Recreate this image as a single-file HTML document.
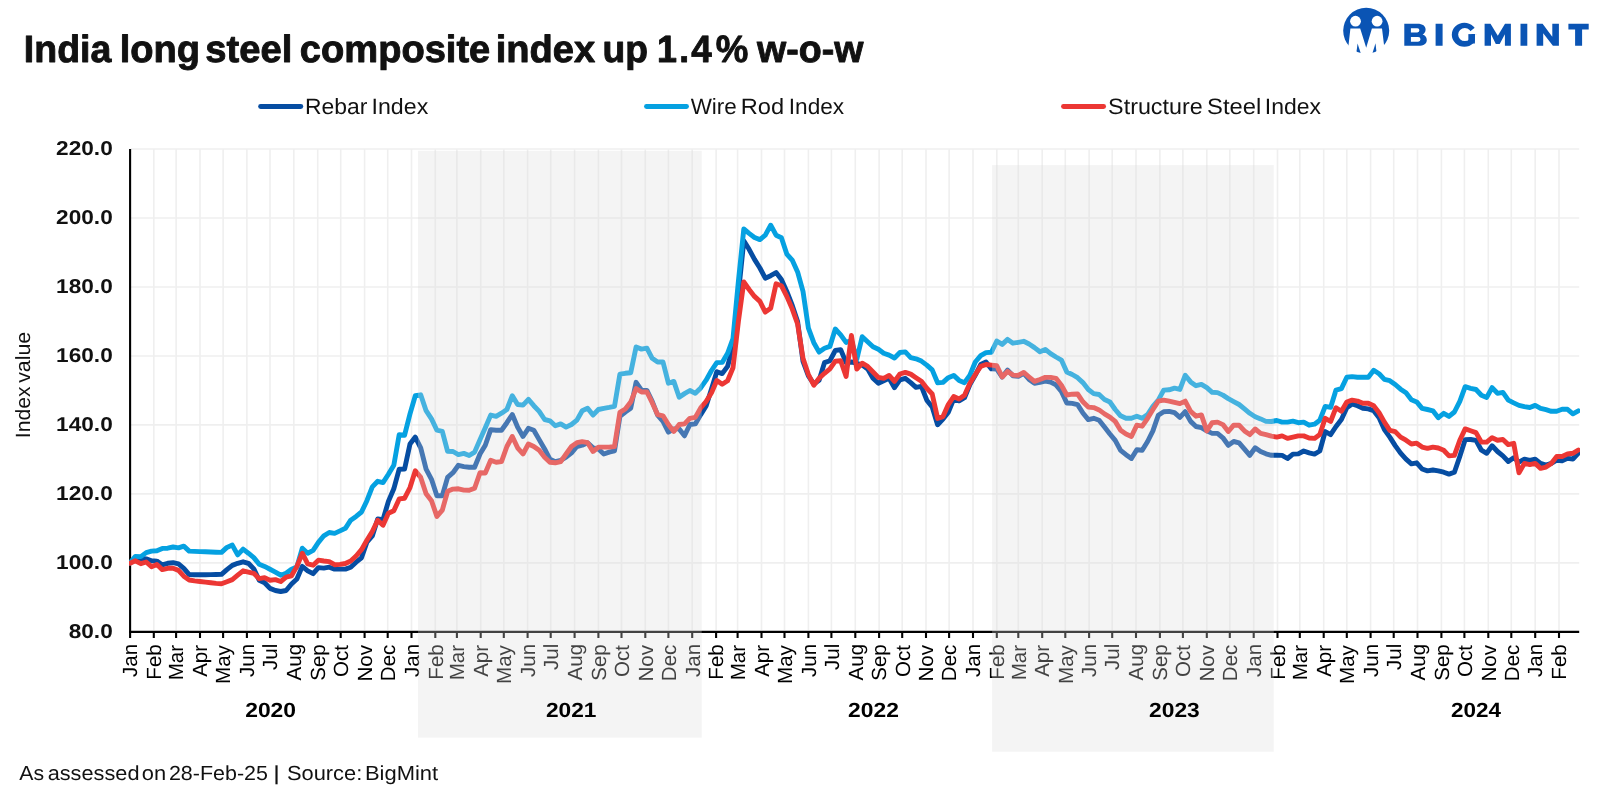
<!DOCTYPE html>
<html><head><meta charset="utf-8"><title>India long steel composite index</title>
<style>
html,body{margin:0;padding:0;background:#fff;}
body{width:1598px;height:797px;overflow:hidden;}
svg{display:block;will-change:transform;}
text{font-family:"Liberation Sans",sans-serif;font-kerning:none;text-rendering:geometricPrecision;}
.b{font-weight:700;}
</style></head><body>
<svg width="1598" height="797" viewBox="0 0 1598 797">
<rect width="1598" height="797" fill="#fff"/>
<defs><clipPath id="pc"><rect x="129.05" y="140" width="1451.05" height="500"/></clipPath></defs>
<text class="b" y="61.70" font-size="38.00" fill="#111" stroke="#111" stroke-width="0.90" stroke-linejoin="round"><tspan x="23.84" textLength="87.47" lengthAdjust="spacingAndGlyphs">India</tspan> <tspan x="119.79" textLength="80.30" lengthAdjust="spacingAndGlyphs">long</tspan> <tspan x="205.21" textLength="87.05" lengthAdjust="spacingAndGlyphs">steel</tspan> <tspan x="299.86" textLength="190.39" lengthAdjust="spacingAndGlyphs">composite</tspan> <tspan x="495.79" textLength="99.44" lengthAdjust="spacingAndGlyphs">index</tspan> <tspan x="602.54" textLength="45.54" lengthAdjust="spacingAndGlyphs">up</tspan> <tspan x="657.09" textLength="19.96" lengthAdjust="spacingAndGlyphs">1</tspan><tspan x="679.35" textLength="9.84" lengthAdjust="spacingAndGlyphs">.</tspan><tspan x="691.19" textLength="20.45" lengthAdjust="spacingAndGlyphs">4</tspan><tspan x="715.64" textLength="32.58" lengthAdjust="spacingAndGlyphs">%</tspan> <tspan x="757.06" textLength="106.42" lengthAdjust="spacingAndGlyphs">w-o-w</tspan></text>
<defs><clipPath id="lc"><circle cx="1366.2" cy="30.7" r="23.0"/></clipPath></defs>
<g>
<circle cx="1366.2" cy="30.7" r="23.0" fill="#0a54b4"/>
<circle cx="1355.5" cy="21.2" r="5.4" fill="#fff"/><circle cx="1377.1" cy="21.2" r="5.4" fill="#fff"/>
<path fill="#fff" d="M1350.4 28.4 H1360.2 L1366.2 47.8 L1371.9 28.4 H1382 L1384.4 48 V58 H1348.2 V48 Z"/>
<g clip-path="url(#lc)" fill="#0a54b4"><path d="M1357.6 43.6 L1355.9 56 L1361.6 56 Z"/><path d="M1375.5 43.2 L1371.6 56 L1376.9 56 Z"/></g>
</g>
<path fill="#0a54b4" fill-rule="evenodd" d="M1404.3 23.7 H1417.3 C1422.8 23.7 1425.6 25.9 1425.6 29.6 C1425.6 32.0 1424.3 33.7 1422.6 34.5 C1425.1 35.3 1426.8 37.2 1426.8 40.0 C1426.8 43.9 1423.8 45.8 1418.3 45.8 H1404.3 Z M1410.9 28.2 H1417.3 a2.1 2.1 0 0 1 0 4.2 H1410.9 Z M1410.9 36.9 H1418.1 a2.4 2.4 0 0 1 0 4.8 H1410.9 Z M1435.6 23.7 h7 v22.1 h-7 Z M1484.6 45.8 V23.7 H1490.5 L1497.8 35.8 L1505.0 23.7 H1510.9 V45.8 H1504.9 V34.3 L1499.7 44.0 H1495.8 L1491.0 34.3 V45.8 Z M1520.5 23.7 h6.8 v22.1 h-6.8 Z M1536.6 45.8 V23.7 H1542.6 L1552.3 36.7 V23.7 H1558.9 V45.8 H1552.9 L1543.2 33.2 V45.8 Z M1568.4 23.7 H1588.7 V29.4 H1582.1 V45.8 H1575.1 V29.4 H1568.4 Z"/>
<path fill="#0a54b4" fill-rule="evenodd" d="M1451.8 34.75 a12.55 11.95 0 1 0 25.1 0 a12.55 11.95 0 1 0 -25.1 0 Z M1458.15 34.55 a6.7 6.55 0 1 0 13.4 0 a6.7 6.55 0 1 0 -13.4 0 Z"/>
<path fill="#fff" d="M1469.6 31.7 L1478.3 25.0 L1479 34.1 L1466.5 34.1 Z"/>
<path fill="#fff" d="M1474.9 34.1 H1479 V47 H1474.9 Z"/>
<rect x="1468.35" y="34.1" width="6.55" height="9.4" fill="#0a54b4"/>
<line x1="260.6" y1="106.5" x2="300.8" y2="106.5" stroke="#064da2" stroke-width="4.9" stroke-linecap="round"/><text y="113.80" font-size="22.20" fill="#111"><tspan x="305.02" textLength="62.36" lengthAdjust="spacingAndGlyphs">Rebar</tspan> <tspan x="371.56" textLength="56.69" lengthAdjust="spacingAndGlyphs">Index</tspan></text>
<line x1="646.5" y1="106.5" x2="686.5" y2="106.5" stroke="#05a1e1" stroke-width="4.9" stroke-linecap="round"/><text y="113.80" font-size="22.20" fill="#111"><tspan x="690.70" textLength="46.10" lengthAdjust="spacingAndGlyphs">Wire</tspan> <tspan x="740.76" textLength="43.36" lengthAdjust="spacingAndGlyphs">Rod</tspan> <tspan x="788.81" textLength="55.33" lengthAdjust="spacingAndGlyphs">Index</tspan></text>
<line x1="1063.5" y1="106.5" x2="1103.6" y2="106.5" stroke="#ec3734" stroke-width="4.9" stroke-linecap="round"/><text y="113.80" font-size="22.20" fill="#111"><tspan x="1108.14" textLength="94.49" lengthAdjust="spacingAndGlyphs">Structure</tspan> <tspan x="1207.12" textLength="54.17" lengthAdjust="spacingAndGlyphs">Steel</tspan> <tspan x="1264.78" textLength="56.17" lengthAdjust="spacingAndGlyphs">Index</tspan></text>
<g stroke="#efefef" stroke-width="1.6" fill="none">
<line x1="131" y1="149.0" x2="1579.2" y2="149.0"/><line x1="131" y1="218.0" x2="1579.2" y2="218.0"/><line x1="131" y1="287.0" x2="1579.2" y2="287.0"/><line x1="131" y1="356.0" x2="1579.2" y2="356.0"/><line x1="131" y1="424.9" x2="1579.2" y2="424.9"/><line x1="131" y1="493.9" x2="1579.2" y2="493.9"/><line x1="131" y1="562.9" x2="1579.2" y2="562.9"/><line x1="153.8" y1="149" x2="153.8" y2="630"/><line x1="176.1" y1="149" x2="176.1" y2="630"/><line x1="200.0" y1="149" x2="200.0" y2="630"/><line x1="223.1" y1="149" x2="223.1" y2="630"/><line x1="246.9" y1="149" x2="246.9" y2="630"/><line x1="270.0" y1="149" x2="270.0" y2="630"/><line x1="293.8" y1="149" x2="293.8" y2="630"/><line x1="317.7" y1="149" x2="317.7" y2="630"/><line x1="340.7" y1="149" x2="340.7" y2="630"/><line x1="364.6" y1="149" x2="364.6" y2="630"/><line x1="387.7" y1="149" x2="387.7" y2="630"/><line x1="411.5" y1="149" x2="411.5" y2="630"/><line x1="435.3" y1="149" x2="435.3" y2="630"/><line x1="456.9" y1="149" x2="456.9" y2="630"/><line x1="480.7" y1="149" x2="480.7" y2="630"/><line x1="503.8" y1="149" x2="503.8" y2="630"/><line x1="527.6" y1="149" x2="527.6" y2="630"/><line x1="550.7" y1="149" x2="550.7" y2="630"/><line x1="574.6" y1="149" x2="574.6" y2="630"/><line x1="598.4" y1="149" x2="598.4" y2="630"/><line x1="621.5" y1="149" x2="621.5" y2="630"/><line x1="645.3" y1="149" x2="645.3" y2="630"/><line x1="668.4" y1="149" x2="668.4" y2="630"/><line x1="692.2" y1="149" x2="692.2" y2="630"/><line x1="716.1" y1="149" x2="716.1" y2="630"/><line x1="737.6" y1="149" x2="737.6" y2="630"/><line x1="761.5" y1="149" x2="761.5" y2="630"/><line x1="784.5" y1="149" x2="784.5" y2="630"/><line x1="808.4" y1="149" x2="808.4" y2="630"/><line x1="831.4" y1="149" x2="831.4" y2="630"/><line x1="855.3" y1="149" x2="855.3" y2="630"/><line x1="879.1" y1="149" x2="879.1" y2="630"/><line x1="902.2" y1="149" x2="902.2" y2="630"/><line x1="926.0" y1="149" x2="926.0" y2="630"/><line x1="949.1" y1="149" x2="949.1" y2="630"/><line x1="973.0" y1="149" x2="973.0" y2="630"/><line x1="996.8" y1="149" x2="996.8" y2="630"/><line x1="1018.3" y1="149" x2="1018.3" y2="630"/><line x1="1042.2" y1="149" x2="1042.2" y2="630"/><line x1="1065.3" y1="149" x2="1065.3" y2="630"/><line x1="1089.1" y1="149" x2="1089.1" y2="630"/><line x1="1112.2" y1="149" x2="1112.2" y2="630"/><line x1="1136.0" y1="149" x2="1136.0" y2="630"/><line x1="1159.9" y1="149" x2="1159.9" y2="630"/><line x1="1182.9" y1="149" x2="1182.9" y2="630"/><line x1="1206.8" y1="149" x2="1206.8" y2="630"/><line x1="1229.8" y1="149" x2="1229.8" y2="630"/><line x1="1253.7" y1="149" x2="1253.7" y2="630"/><line x1="1277.5" y1="149" x2="1277.5" y2="630"/><line x1="1299.8" y1="149" x2="1299.8" y2="630"/><line x1="1323.7" y1="149" x2="1323.7" y2="630"/><line x1="1346.8" y1="149" x2="1346.8" y2="630"/><line x1="1370.6" y1="149" x2="1370.6" y2="630"/><line x1="1393.7" y1="149" x2="1393.7" y2="630"/><line x1="1417.5" y1="149" x2="1417.5" y2="630"/><line x1="1441.4" y1="149" x2="1441.4" y2="630"/><line x1="1464.4" y1="149" x2="1464.4" y2="630"/><line x1="1488.3" y1="149" x2="1488.3" y2="630"/><line x1="1511.3" y1="149" x2="1511.3" y2="630"/><line x1="1535.2" y1="149" x2="1535.2" y2="630"/><line x1="1559.0" y1="149" x2="1559.0" y2="630"/></g>
<g stroke="#000" stroke-width="2.1" fill="none">
<line x1="130.1" y1="149" x2="130.1" y2="638"/><line x1="129.05" y1="631.9" x2="1579.2" y2="631.9"/><line x1="153.8" y1="631.9" x2="153.8" y2="638"/><line x1="176.1" y1="631.9" x2="176.1" y2="638"/><line x1="200.0" y1="631.9" x2="200.0" y2="638"/><line x1="223.1" y1="631.9" x2="223.1" y2="638"/><line x1="246.9" y1="631.9" x2="246.9" y2="638"/><line x1="270.0" y1="631.9" x2="270.0" y2="638"/><line x1="293.8" y1="631.9" x2="293.8" y2="638"/><line x1="317.7" y1="631.9" x2="317.7" y2="638"/><line x1="340.7" y1="631.9" x2="340.7" y2="638"/><line x1="364.6" y1="631.9" x2="364.6" y2="638"/><line x1="387.7" y1="631.9" x2="387.7" y2="638"/><line x1="411.5" y1="631.9" x2="411.5" y2="638"/><line x1="435.3" y1="631.9" x2="435.3" y2="638"/><line x1="456.9" y1="631.9" x2="456.9" y2="638"/><line x1="480.7" y1="631.9" x2="480.7" y2="638"/><line x1="503.8" y1="631.9" x2="503.8" y2="638"/><line x1="527.6" y1="631.9" x2="527.6" y2="638"/><line x1="550.7" y1="631.9" x2="550.7" y2="638"/><line x1="574.6" y1="631.9" x2="574.6" y2="638"/><line x1="598.4" y1="631.9" x2="598.4" y2="638"/><line x1="621.5" y1="631.9" x2="621.5" y2="638"/><line x1="645.3" y1="631.9" x2="645.3" y2="638"/><line x1="668.4" y1="631.9" x2="668.4" y2="638"/><line x1="692.2" y1="631.9" x2="692.2" y2="638"/><line x1="716.1" y1="631.9" x2="716.1" y2="638"/><line x1="737.6" y1="631.9" x2="737.6" y2="638"/><line x1="761.5" y1="631.9" x2="761.5" y2="638"/><line x1="784.5" y1="631.9" x2="784.5" y2="638"/><line x1="808.4" y1="631.9" x2="808.4" y2="638"/><line x1="831.4" y1="631.9" x2="831.4" y2="638"/><line x1="855.3" y1="631.9" x2="855.3" y2="638"/><line x1="879.1" y1="631.9" x2="879.1" y2="638"/><line x1="902.2" y1="631.9" x2="902.2" y2="638"/><line x1="926.0" y1="631.9" x2="926.0" y2="638"/><line x1="949.1" y1="631.9" x2="949.1" y2="638"/><line x1="973.0" y1="631.9" x2="973.0" y2="638"/><line x1="996.8" y1="631.9" x2="996.8" y2="638"/><line x1="1018.3" y1="631.9" x2="1018.3" y2="638"/><line x1="1042.2" y1="631.9" x2="1042.2" y2="638"/><line x1="1065.3" y1="631.9" x2="1065.3" y2="638"/><line x1="1089.1" y1="631.9" x2="1089.1" y2="638"/><line x1="1112.2" y1="631.9" x2="1112.2" y2="638"/><line x1="1136.0" y1="631.9" x2="1136.0" y2="638"/><line x1="1159.9" y1="631.9" x2="1159.9" y2="638"/><line x1="1182.9" y1="631.9" x2="1182.9" y2="638"/><line x1="1206.8" y1="631.9" x2="1206.8" y2="638"/><line x1="1229.8" y1="631.9" x2="1229.8" y2="638"/><line x1="1253.7" y1="631.9" x2="1253.7" y2="638"/><line x1="1277.5" y1="631.9" x2="1277.5" y2="638"/><line x1="1299.8" y1="631.9" x2="1299.8" y2="638"/><line x1="1323.7" y1="631.9" x2="1323.7" y2="638"/><line x1="1346.8" y1="631.9" x2="1346.8" y2="638"/><line x1="1370.6" y1="631.9" x2="1370.6" y2="638"/><line x1="1393.7" y1="631.9" x2="1393.7" y2="638"/><line x1="1417.5" y1="631.9" x2="1417.5" y2="638"/><line x1="1441.4" y1="631.9" x2="1441.4" y2="638"/><line x1="1464.4" y1="631.9" x2="1464.4" y2="638"/><line x1="1488.3" y1="631.9" x2="1488.3" y2="638"/><line x1="1511.3" y1="631.9" x2="1511.3" y2="638"/><line x1="1535.2" y1="631.9" x2="1535.2" y2="638"/><line x1="1559.0" y1="631.9" x2="1559.0" y2="638"/></g>
<g fill="none" stroke-width="4.9" stroke-linejoin="round" stroke-linecap="round" clip-path="url(#pc)">
<path stroke="#064da2" d="M130.0 563.0 L135.4 559.5 L140.8 558.3 L146.2 558.9 L151.5 560.8 L156.9 561.1 L162.3 564.9 L167.7 563.3 L173.1 562.7 L178.5 563.9 L183.8 568.3 L189.2 574.6 L194.6 574.8 L200.0 574.8 L205.4 574.7 L210.8 574.6 L216.1 574.5 L221.5 574.3 L226.9 569.6 L232.3 565.4 L237.7 563.3 L243.1 561.8 L248.4 563.3 L253.8 568.9 L259.2 580.2 L264.6 582.7 L270.0 588.4 L275.4 590.5 L280.7 591.5 L286.1 590.5 L291.5 584.0 L296.9 579.0 L302.3 566.4 L307.7 570.8 L313.1 573.7 L318.4 567.6 L323.8 568.1 L329.2 567.2 L334.6 569.1 L340.0 569.1 L345.4 569.1 L350.7 567.2 L356.1 562.2 L361.5 557.8 L366.9 542.1 L372.3 535.9 L377.7 518.9 L383.0 519.6 L388.4 501.4 L393.8 488.8 L399.2 469.2 L404.6 469.1 L410.0 444.0 L415.3 437.1 L420.7 447.8 L426.1 469.1 L431.5 479.3 L436.9 495.7 L442.3 495.7 L447.6 477.4 L453.0 472.7 L458.4 465.3 L463.8 466.6 L469.2 467.2 L474.6 467.2 L480.0 454.0 L485.3 445.2 L490.7 429.6 L496.1 430.2 L501.5 430.2 L506.9 422.7 L512.3 414.5 L517.6 427.1 L523.0 436.5 L528.4 428.3 L533.8 430.2 L539.2 439.6 L544.6 449.0 L549.9 459.1 L555.3 461.6 L560.7 460.3 L566.1 457.2 L571.5 452.8 L576.9 446.5 L582.2 445.2 L587.6 442.7 L593.0 447.8 L598.4 449.0 L603.8 454.0 L609.2 452.1 L614.5 450.9 L619.9 416.4 L625.3 412.0 L630.7 408.2 L636.1 382.3 L641.5 390.1 L646.9 390.4 L652.2 401.3 L657.6 415.1 L663.0 421.4 L668.4 432.1 L673.8 428.9 L679.2 428.9 L684.5 435.8 L689.9 424.5 L695.3 423.9 L700.7 414.6 L706.1 405.9 L711.5 389.0 L716.8 371.7 L722.2 373.6 L727.6 366.4 L733.0 346.3 L738.4 293.6 L743.8 240.9 L749.1 249.3 L754.5 259.4 L759.9 268.0 L765.3 278.2 L770.7 275.7 L776.1 272.6 L781.4 279.4 L786.8 291.4 L792.2 305.2 L797.6 321.5 L803.0 361.5 L808.4 375.8 L813.8 383.9 L819.1 380.2 L824.5 362.6 L829.9 360.7 L835.3 350.5 L840.7 349.6 L846.1 362.6 L851.4 362.0 L856.8 363.2 L862.2 365.1 L867.6 368.9 L873.0 378.3 L878.4 383.3 L883.7 380.8 L889.1 378.3 L894.5 387.7 L899.9 379.9 L905.3 378.3 L910.7 382.7 L916.0 387.4 L921.4 386.4 L926.8 400.2 L932.2 407.1 L937.6 424.7 L943.0 419.1 L948.3 412.2 L953.7 399.0 L959.1 400.9 L964.5 397.7 L969.9 384.6 L975.3 375.1 L980.7 364.5 L986.0 362.0 L991.4 368.9 L996.8 369.1 L1002.2 377.0 L1007.6 370.1 L1013.0 375.8 L1018.3 376.4 L1023.7 373.3 L1029.1 379.5 L1034.5 383.3 L1039.9 382.4 L1045.3 381.2 L1050.6 382.1 L1056.0 384.9 L1061.4 391.5 L1066.8 403.0 L1072.2 403.4 L1077.6 404.6 L1082.9 413.0 L1088.3 419.6 L1093.7 418.3 L1099.1 420.2 L1104.5 427.1 L1109.9 434.0 L1115.2 440.3 L1120.6 450.3 L1126.0 454.7 L1131.4 458.5 L1136.8 449.7 L1142.2 450.3 L1147.6 441.5 L1152.9 430.9 L1158.3 415.2 L1163.7 411.7 L1169.1 411.4 L1174.5 412.7 L1179.9 417.4 L1185.2 411.7 L1190.6 421.4 L1196.0 426.5 L1201.4 427.7 L1206.8 430.9 L1212.2 433.4 L1217.5 433.4 L1222.9 437.8 L1228.3 445.3 L1233.7 441.5 L1239.1 442.8 L1244.5 449.1 L1249.8 455.3 L1255.2 447.8 L1260.6 451.6 L1266.0 453.8 L1271.4 455.3 L1276.8 455.3 L1282.1 455.4 L1287.5 458.5 L1292.9 454.1 L1298.3 453.9 L1303.7 451.0 L1309.1 452.9 L1314.5 454.1 L1319.8 451.0 L1325.2 431.5 L1330.6 434.6 L1336.0 426.5 L1341.4 419.6 L1346.8 407.7 L1352.1 403.9 L1357.5 405.8 L1362.9 408.3 L1368.3 408.9 L1373.7 410.8 L1379.1 417.7 L1384.4 429.6 L1389.8 437.1 L1395.2 445.6 L1400.6 453.1 L1406.0 459.1 L1411.4 463.8 L1416.7 462.8 L1422.1 469.0 L1427.5 470.9 L1432.9 470.0 L1438.3 470.9 L1443.7 472.2 L1449.0 474.1 L1454.4 472.2 L1459.8 456.5 L1465.2 439.6 L1470.6 439.5 L1476.0 440.4 L1481.4 450.2 L1486.7 453.3 L1492.1 445.8 L1497.5 451.5 L1502.9 455.9 L1508.3 461.5 L1513.7 457.7 L1519.0 462.1 L1524.4 459.2 L1529.8 460.5 L1535.2 459.2 L1540.6 463.4 L1546.0 465.0 L1551.3 463.4 L1556.7 460.2 L1562.1 460.9 L1567.5 458.4 L1572.9 459.0 L1578.3 453.3"/>
<path stroke="#05a1e1" d="M130.0 563.0 L135.4 556.4 L140.8 556.6 L146.2 552.6 L151.5 551.1 L156.9 550.7 L162.3 548.4 L167.7 548.2 L173.1 547.0 L178.5 547.9 L183.8 546.1 L189.2 551.1 L194.6 551.4 L200.0 551.6 L205.4 551.7 L210.8 552.0 L216.1 552.2 L221.5 552.4 L226.9 547.4 L232.3 545.1 L237.7 554.9 L243.1 549.1 L248.4 553.2 L253.8 557.6 L259.2 564.2 L264.6 566.4 L270.0 569.2 L275.4 572.1 L280.7 575.2 L286.1 573.3 L291.5 569.2 L296.9 567.0 L302.3 548.2 L307.7 553.2 L313.1 550.4 L318.4 542.4 L323.8 535.8 L329.2 532.5 L334.6 533.4 L340.0 530.9 L345.4 528.3 L350.7 520.2 L356.1 516.4 L361.5 512.0 L366.9 500.7 L372.3 486.9 L377.7 481.3 L383.0 482.6 L388.4 474.2 L393.8 465.3 L399.2 434.6 L404.6 435.2 L410.0 413.9 L415.3 395.7 L420.7 394.8 L426.1 410.7 L431.5 418.9 L436.9 430.2 L442.3 431.4 L447.6 451.3 L453.0 451.5 L458.4 454.6 L463.8 453.4 L469.2 455.5 L474.6 452.1 L480.0 439.6 L485.3 427.7 L490.7 415.1 L496.1 416.4 L501.5 413.2 L506.9 409.5 L512.3 395.7 L517.6 404.5 L523.0 405.1 L528.4 399.4 L533.8 405.7 L539.2 411.4 L544.6 419.5 L549.9 420.8 L555.3 425.8 L560.7 423.9 L566.1 427.1 L571.5 424.5 L576.9 420.1 L582.2 410.7 L587.6 408.2 L593.0 415.1 L598.4 409.5 L603.8 408.3 L609.2 407.4 L614.5 406.3 L619.9 374.2 L625.3 373.3 L630.7 372.7 L636.1 347.0 L641.5 349.1 L646.9 348.2 L652.2 358.3 L657.6 362.0 L663.0 362.0 L668.4 383.2 L673.8 381.4 L679.2 397.2 L684.5 393.6 L689.9 390.5 L695.3 393.3 L700.7 387.9 L706.1 380.2 L711.5 370.5 L716.8 362.6 L722.2 362.4 L727.6 353.3 L733.0 338.5 L738.4 281.3 L743.8 229.0 L749.1 233.4 L754.5 237.5 L759.9 239.6 L765.3 235.2 L770.7 225.2 L776.1 235.2 L781.4 237.8 L786.8 254.1 L792.2 260.1 L797.6 271.9 L803.0 291.4 L808.4 328.2 L813.8 342.7 L819.1 352.1 L824.5 348.3 L829.9 346.4 L835.3 329.0 L840.7 334.8 L846.1 342.4 L851.4 340.5 L856.8 359.3 L862.2 336.7 L867.6 341.7 L873.0 346.8 L878.4 349.3 L883.7 353.2 L889.1 355.1 L894.5 358.0 L899.9 352.5 L905.3 351.9 L910.7 357.6 L916.0 358.8 L921.4 361.1 L926.8 365.1 L932.2 369.9 L937.6 382.7 L943.0 382.4 L948.3 377.7 L953.7 375.4 L959.1 380.4 L964.5 382.7 L969.9 375.1 L975.3 362.0 L980.7 355.7 L986.0 352.6 L991.4 352.3 L996.8 341.0 L1002.2 344.4 L1007.6 339.4 L1013.0 343.2 L1018.3 342.3 L1023.7 341.3 L1029.1 344.0 L1034.5 347.6 L1039.9 351.7 L1045.3 349.4 L1050.6 353.6 L1056.0 357.0 L1061.4 360.1 L1066.8 372.0 L1072.2 374.5 L1077.6 377.7 L1082.9 382.6 L1088.3 389.5 L1093.7 393.6 L1099.1 394.5 L1104.5 399.5 L1109.9 402.0 L1115.2 409.5 L1120.6 415.8 L1126.0 418.3 L1131.4 418.3 L1136.8 416.2 L1142.2 418.3 L1147.6 414.5 L1152.9 406.4 L1158.3 400.1 L1163.7 390.1 L1169.1 389.8 L1174.5 388.2 L1179.9 389.4 L1185.2 375.3 L1190.6 381.9 L1196.0 385.7 L1201.4 384.4 L1206.8 387.6 L1212.2 392.3 L1217.5 392.6 L1222.9 395.1 L1228.3 398.6 L1233.7 401.6 L1239.1 404.5 L1244.5 408.9 L1249.8 413.3 L1255.2 416.7 L1260.6 418.9 L1266.0 421.4 L1271.4 421.5 L1276.8 420.5 L1282.1 422.1 L1287.5 422.1 L1292.9 421.2 L1298.3 422.7 L1303.7 422.1 L1309.1 425.2 L1314.5 424.2 L1319.8 420.2 L1325.2 406.4 L1330.6 407.4 L1336.0 390.1 L1341.4 388.6 L1346.8 377.3 L1352.1 376.6 L1357.5 377.3 L1362.9 377.3 L1368.3 377.3 L1373.7 370.3 L1379.1 373.8 L1384.4 379.4 L1389.8 380.7 L1395.2 384.5 L1400.6 389.2 L1406.0 392.8 L1411.4 399.7 L1416.7 401.9 L1422.1 408.3 L1427.5 409.5 L1432.9 410.8 L1438.3 417.7 L1443.7 413.3 L1449.0 416.4 L1454.4 412.0 L1459.8 401.4 L1465.2 386.7 L1470.6 388.3 L1476.0 389.5 L1481.4 395.2 L1486.7 397.4 L1492.1 387.6 L1497.5 393.3 L1502.9 392.4 L1508.3 400.1 L1513.7 402.9 L1519.0 405.4 L1524.4 406.7 L1529.8 407.5 L1535.2 405.4 L1540.6 408.4 L1546.0 409.7 L1551.3 411.3 L1556.7 411.3 L1562.1 409.3 L1567.5 409.3 L1572.9 413.8 L1578.3 410.8"/>
<path stroke="#ec3734" d="M130.0 563.2 L135.4 560.8 L140.8 563.7 L146.2 562.0 L151.5 566.7 L156.9 564.5 L162.3 569.6 L167.7 568.3 L173.1 568.3 L178.5 570.4 L183.8 576.2 L189.2 580.0 L194.6 580.9 L200.0 581.5 L205.4 582.1 L210.8 582.7 L216.1 583.4 L221.5 583.7 L226.9 581.7 L232.3 579.6 L237.7 575.2 L243.1 570.8 L248.4 572.1 L253.8 573.3 L259.2 578.7 L264.6 577.7 L270.0 580.2 L275.4 579.6 L280.7 581.5 L286.1 577.1 L291.5 575.8 L296.9 566.4 L302.3 553.2 L307.7 563.9 L313.1 565.2 L318.4 560.2 L323.8 561.0 L329.2 561.6 L334.6 564.7 L340.0 564.4 L345.4 563.5 L350.7 561.0 L356.1 556.0 L361.5 549.7 L366.9 540.3 L372.3 531.5 L377.7 520.2 L383.0 525.2 L388.4 513.3 L393.8 510.8 L399.2 498.9 L404.6 498.2 L410.0 487.6 L415.3 470.8 L420.7 477.4 L426.1 493.8 L431.5 500.7 L436.9 516.4 L442.3 510.1 L447.6 491.3 L453.0 489.1 L458.4 488.8 L463.8 490.1 L469.2 490.3 L474.6 488.2 L480.0 472.7 L485.3 473.0 L490.7 460.3 L496.1 462.2 L501.5 461.6 L506.9 446.5 L512.3 436.5 L517.6 447.8 L523.0 454.0 L528.4 444.0 L533.8 446.5 L539.2 450.3 L544.6 457.2 L549.9 462.2 L555.3 462.8 L560.7 461.6 L566.1 454.0 L571.5 446.5 L576.9 442.7 L582.2 441.7 L587.6 442.7 L593.0 451.5 L598.4 447.1 L603.8 447.1 L609.2 447.1 L614.5 446.5 L619.9 412.4 L625.3 409.0 L630.7 402.1 L636.1 388.6 L641.5 392.0 L646.9 392.0 L652.2 402.7 L657.6 414.6 L663.0 415.9 L668.4 424.5 L673.8 431.4 L679.2 424.5 L684.5 423.9 L689.9 418.3 L695.3 417.4 L700.7 407.9 L706.1 401.5 L711.5 392.8 L716.8 380.5 L722.2 384.3 L727.6 380.8 L733.0 367.7 L738.4 321.5 L743.8 282.0 L749.1 289.5 L754.5 296.4 L759.9 301.4 L765.3 312.1 L770.7 308.3 L776.1 283.8 L781.4 285.7 L786.8 296.4 L792.2 308.9 L797.6 324.0 L803.0 358.4 L808.4 374.5 L813.8 385.2 L819.1 378.3 L824.5 373.3 L829.9 368.9 L835.3 361.1 L840.7 360.7 L846.1 376.4 L851.4 335.5 L856.8 369.1 L862.2 363.2 L867.6 366.4 L873.0 372.0 L878.4 377.4 L883.7 378.3 L889.1 375.4 L894.5 381.4 L899.9 374.0 L905.3 372.4 L910.7 374.1 L916.0 377.7 L921.4 381.2 L926.8 388.3 L932.2 394.0 L937.6 418.4 L943.0 416.6 L948.3 404.6 L953.7 396.5 L959.1 399.0 L964.5 395.2 L969.9 383.3 L975.3 374.5 L980.7 366.4 L986.0 364.5 L991.4 365.1 L996.8 365.7 L1002.2 377.0 L1007.6 371.4 L1013.0 375.1 L1018.3 375.4 L1023.7 372.4 L1029.1 377.0 L1034.5 381.4 L1039.9 379.5 L1045.3 377.4 L1050.6 377.4 L1056.0 378.3 L1061.4 385.2 L1066.8 395.0 L1072.2 394.2 L1077.6 394.0 L1082.9 401.8 L1088.3 407.1 L1093.7 407.6 L1099.1 409.9 L1104.5 413.9 L1109.9 417.1 L1115.2 421.4 L1120.6 430.2 L1126.0 434.0 L1131.4 436.5 L1136.8 425.2 L1142.2 426.2 L1147.6 418.3 L1152.9 409.5 L1158.3 401.1 L1163.7 400.1 L1169.1 401.1 L1174.5 402.4 L1179.9 403.6 L1185.2 401.1 L1190.6 411.4 L1196.0 416.2 L1201.4 414.9 L1206.8 430.9 L1212.2 422.7 L1217.5 422.1 L1222.9 424.6 L1228.3 431.5 L1233.7 425.2 L1239.1 425.2 L1244.5 430.9 L1249.8 434.6 L1255.2 429.0 L1260.6 433.4 L1266.0 434.6 L1271.4 436.1 L1276.8 437.1 L1282.1 435.9 L1287.5 438.4 L1292.9 437.2 L1298.3 435.9 L1303.7 435.9 L1309.1 438.0 L1314.5 438.4 L1319.8 434.6 L1325.2 418.3 L1330.6 421.5 L1336.0 407.7 L1341.4 411.2 L1346.8 402.0 L1352.1 400.1 L1357.5 401.1 L1362.9 403.3 L1368.3 403.3 L1373.7 405.8 L1379.1 412.7 L1384.4 422.1 L1389.8 430.3 L1395.2 431.6 L1400.6 437.1 L1406.0 440.2 L1411.4 444.0 L1416.7 443.2 L1422.1 447.1 L1427.5 448.4 L1432.9 447.1 L1438.3 448.0 L1443.7 450.3 L1449.0 455.9 L1454.4 455.4 L1459.8 440.2 L1465.2 428.9 L1470.6 430.8 L1476.0 432.6 L1481.4 442.1 L1486.7 442.1 L1492.1 437.7 L1497.5 440.2 L1502.9 439.5 L1508.3 444.6 L1513.7 443.3 L1519.0 472.8 L1524.4 463.4 L1529.8 464.6 L1535.2 463.4 L1540.6 468.4 L1546.0 467.1 L1551.3 463.4 L1556.7 456.5 L1562.1 456.5 L1567.5 454.0 L1572.9 453.3 L1578.3 450.0"/>
</g>
<text class="b" transform="translate(56.12,154.90) scale(1.1311,1)" font-size="20.00" fill="#111">220.0</text><text class="b" transform="translate(56.12,223.90) scale(1.1311,1)" font-size="20.00" fill="#111">200.0</text><text class="b" transform="translate(56.12,292.90) scale(1.1311,1)" font-size="20.00" fill="#111">180.0</text><text class="b" transform="translate(56.12,361.90) scale(1.1311,1)" font-size="20.00" fill="#111">160.0</text><text class="b" transform="translate(56.12,430.80) scale(1.1311,1)" font-size="20.00" fill="#111">140.0</text><text class="b" transform="translate(56.12,499.80) scale(1.1311,1)" font-size="20.00" fill="#111">120.0</text><text class="b" transform="translate(56.12,568.80) scale(1.1311,1)" font-size="20.00" fill="#111">100.0</text><text class="b" transform="translate(68.70,637.80) scale(1.1311,1)" font-size="20.00" fill="#111">80.0</text>
<text transform="translate(30.2,436.2) rotate(-90)" y="0.00" font-size="20.60" fill="#111"><tspan x="-1.95" textLength="51.78" lengthAdjust="spacingAndGlyphs">Index</tspan> <tspan x="53.33" textLength="51.12" lengthAdjust="spacingAndGlyphs">value</tspan></text>
<g font-size="20.5" text-anchor="end" fill="#000">
<text transform="translate(137.2,643.9) rotate(-90)">Jan</text><text transform="translate(161.1,644.3) rotate(-90)">Feb</text><text transform="translate(183.4,644.9) rotate(-90)">Mar</text><text transform="translate(207.2,644.9) rotate(-90)">Apr</text><text transform="translate(230.3,645.2) rotate(-90)">May</text><text transform="translate(254.2,643.9) rotate(-90)">Jun</text><text transform="translate(277.2,643.8) rotate(-90)">Jul</text><text transform="translate(301.1,643.9) rotate(-90)">Aug</text><text transform="translate(324.9,644.3) rotate(-90)">Sep</text><text transform="translate(348.0,645.0) rotate(-90)">Oct</text><text transform="translate(371.8,645.1) rotate(-90)">Nov</text><text transform="translate(394.9,644.7) rotate(-90)">Dec</text><text transform="translate(418.7,643.9) rotate(-90)">Jan</text><text transform="translate(442.6,644.3) rotate(-90)">Feb</text><text transform="translate(464.1,644.9) rotate(-90)">Mar</text><text transform="translate(488.0,644.9) rotate(-90)">Apr</text><text transform="translate(511.0,645.2) rotate(-90)">May</text><text transform="translate(534.9,643.9) rotate(-90)">Jun</text><text transform="translate(558.0,643.8) rotate(-90)">Jul</text><text transform="translate(581.8,643.9) rotate(-90)">Aug</text><text transform="translate(605.6,644.3) rotate(-90)">Sep</text><text transform="translate(628.7,645.0) rotate(-90)">Oct</text><text transform="translate(652.6,645.1) rotate(-90)">Nov</text><text transform="translate(675.6,644.7) rotate(-90)">Dec</text><text transform="translate(699.5,643.9) rotate(-90)">Jan</text><text transform="translate(723.3,644.3) rotate(-90)">Feb</text><text transform="translate(744.9,644.9) rotate(-90)">Mar</text><text transform="translate(768.7,644.9) rotate(-90)">Apr</text><text transform="translate(791.8,645.2) rotate(-90)">May</text><text transform="translate(815.6,643.9) rotate(-90)">Jun</text><text transform="translate(838.7,643.8) rotate(-90)">Jul</text><text transform="translate(862.5,643.9) rotate(-90)">Aug</text><text transform="translate(886.4,644.3) rotate(-90)">Sep</text><text transform="translate(909.5,645.0) rotate(-90)">Oct</text><text transform="translate(933.3,645.1) rotate(-90)">Nov</text><text transform="translate(956.4,644.7) rotate(-90)">Dec</text><text transform="translate(980.2,643.9) rotate(-90)">Jan</text><text transform="translate(1004.1,644.3) rotate(-90)">Feb</text><text transform="translate(1025.6,644.9) rotate(-90)">Mar</text><text transform="translate(1049.4,644.9) rotate(-90)">Apr</text><text transform="translate(1072.5,645.2) rotate(-90)">May</text><text transform="translate(1096.3,643.9) rotate(-90)">Jun</text><text transform="translate(1119.4,643.8) rotate(-90)">Jul</text><text transform="translate(1143.3,643.9) rotate(-90)">Aug</text><text transform="translate(1167.1,644.3) rotate(-90)">Sep</text><text transform="translate(1190.2,645.0) rotate(-90)">Oct</text><text transform="translate(1214.0,645.1) rotate(-90)">Nov</text><text transform="translate(1237.1,644.7) rotate(-90)">Dec</text><text transform="translate(1260.9,643.9) rotate(-90)">Jan</text><text transform="translate(1284.8,644.3) rotate(-90)">Feb</text><text transform="translate(1307.1,644.9) rotate(-90)">Mar</text><text transform="translate(1330.9,644.9) rotate(-90)">Apr</text><text transform="translate(1354.0,645.2) rotate(-90)">May</text><text transform="translate(1377.8,643.9) rotate(-90)">Jun</text><text transform="translate(1400.9,643.8) rotate(-90)">Jul</text><text transform="translate(1424.8,643.9) rotate(-90)">Aug</text><text transform="translate(1448.6,644.3) rotate(-90)">Sep</text><text transform="translate(1471.7,645.0) rotate(-90)">Oct</text><text transform="translate(1495.5,645.1) rotate(-90)">Nov</text><text transform="translate(1518.6,644.7) rotate(-90)">Dec</text><text transform="translate(1542.4,643.9) rotate(-90)">Jan</text><text transform="translate(1566.3,644.3) rotate(-90)">Feb</text></g>
<rect x="418.0" y="150.8" width="283.7" height="586.8" fill="rgba(218,218,218,0.30)"/>
<rect x="992.1" y="165.1" width="281.7" height="586.6" fill="rgba(218,218,218,0.30)"/>
<text class="b" transform="translate(245.21,716.90) scale(1.1092,1)" font-size="20.60" fill="#000">2020</text><text class="b" transform="translate(545.96,716.90) scale(1.1024,1)" font-size="20.60" fill="#000">2021</text><text class="b" transform="translate(848.11,716.90) scale(1.1087,1)" font-size="20.60" fill="#000">2022</text><text class="b" transform="translate(1149.06,716.90) scale(1.1066,1)" font-size="20.60" fill="#000">2023</text><text class="b" transform="translate(1451.02,716.90) scale(1.0911,1)" font-size="20.60" fill="#000">2024</text>
<text y="779.80" font-size="20.30" fill="#111"><tspan x="19.36" textLength="24.81" lengthAdjust="spacingAndGlyphs">As</tspan> <tspan x="47.68" textLength="91.82" lengthAdjust="spacingAndGlyphs">assessed</tspan> <tspan x="141.78" textLength="24.34" lengthAdjust="spacingAndGlyphs">on</tspan> <tspan x="168.92" textLength="99.08" lengthAdjust="spacingAndGlyphs">28-Feb-25</tspan> <tspan x="273.07" textLength="7.05" lengthAdjust="spacingAndGlyphs">|</tspan> <tspan x="286.91" textLength="75.39" lengthAdjust="spacingAndGlyphs">Source:</tspan> <tspan x="364.90" textLength="73.26" lengthAdjust="spacingAndGlyphs">BigMint</tspan></text>
</svg></body></html>
